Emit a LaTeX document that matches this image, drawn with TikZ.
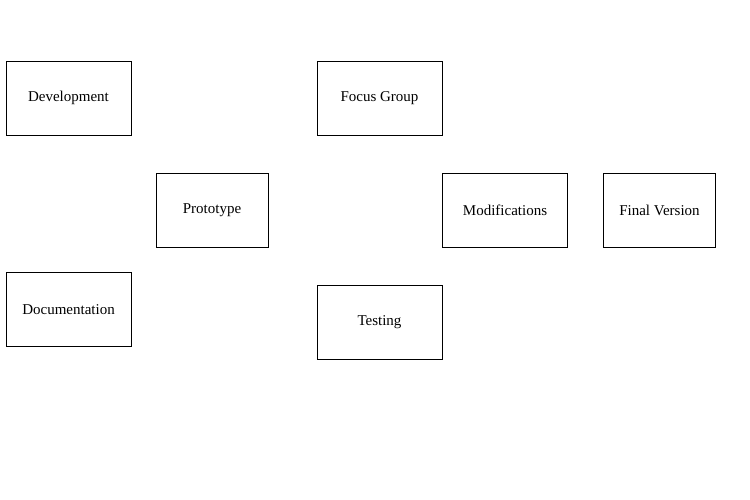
\documentclass[tikz,border=0pt]{standalone}
\usepackage{fontspec}
\setmainfont{Liberation Serif}
\usetikzlibrary{positioning}
\tikzstyle{stage}=[draw=black,thick,minimum height=74pt,inner sep=0pt,font=\fontsize{15}{17}\selectfont]
\tikzstyle{wide stage}=[stage,minimum width=125pt]
\tikzstyle{narrow stage}=[stage,minimum width=112pt]
\begin{document}
\begin{tikzpicture}[x=1pt,y=-1pt]
  \useasboundingbox (0,0) rectangle (750,500);

  % Left column
  \node[wide stage] (development) at (68.5,98) {Development};
  \node[wide stage] (documentation) at (68.5,309.5) {Documentation};
  \node[narrow stage] (prototype) at (212,210) {Prototype};

  % Middle column
  \node[wide stage] (focusGroup) at (379.5,98) {Focus Group};
  \node[wide stage] (testing) at (379.5,322) {Testing};

  % Right column
  \node[wide stage] (modifications) at (505,210) {Modifications};
  \node[narrow stage] (finalVersion) at (659.5,210) {Final Version};
\end{tikzpicture}
\end{document}
